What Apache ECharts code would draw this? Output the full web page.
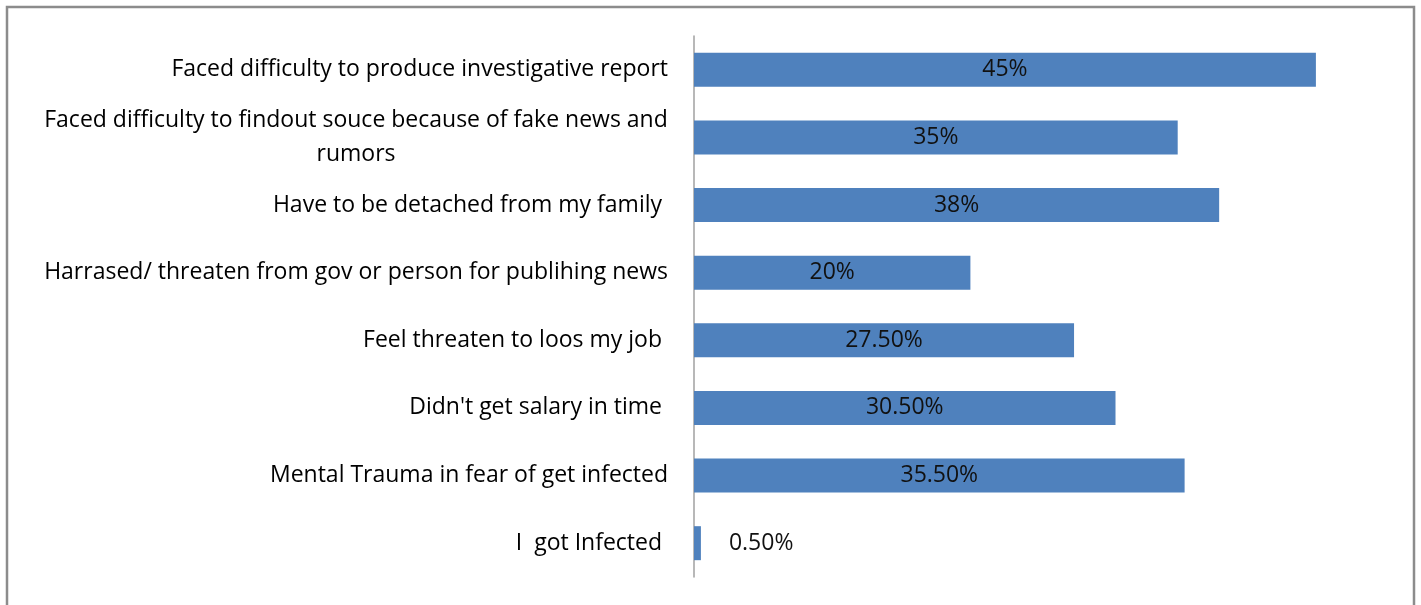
<!DOCTYPE html>
<html>
<head>
<meta charset="utf-8">
<script src="https://cdn.jsdelivr.net/npm/echarts@6/dist/echarts.min.js"></script>
<style>
  html, body { margin: 0; padding: 0; background: #ffffff; }
  #chart { width: 1421px; height: 605px; }
</style>
</head>
<body>
<div id="chart"></div>
<script>
// Problems faced by journalists, share of respondents (%)
const categories = [
  'Faced difficulty to produce investigative report',
  'Faced difficulty to findout souce because of fake news and\nrumors',
  'Have to be detached from my family ',
  'Harrased/ threaten from gov or person for publihing news',
  'Feel threaten to loos my job ',
  "Didn't get salary in time ",
  'Mental Trauma in fear of get infected',
  'I  got Infected '
];
const values = [45, 35, 38, 20, 27.5, 30.5, 35.5, 0.5];

const FONT = '"Open Sans", "DejaVu Sans", sans-serif';
const FONT_SIZE = 23;

function pctText(v) {
  return Number.isInteger(v) ? v + '%' : v.toFixed(2) + '%';
}

const chart = echarts.init(document.getElementById('chart'), null, { renderer: 'canvas' });

chart.setOption({
  backgroundColor: '#ffffff',
  animation: false,
  graphic: [{
    type: 'rect',
    shape: { x: 7, y: 7, width: 1407, height: 700 },
    style: { fill: 'none', stroke: '#8c8c8c', lineWidth: 2.5 },
    silent: true,
    z: 100
  }],
  grid: { left: 694, right: 36, top: 36, bottom: 28, containLabel: false },
  xAxis: {
    type: 'value',
    min: 0,
    max: 50,
    show: false
  },
  yAxis: {
    type: 'category',
    data: categories,
    inverse: true,
    axisTick: { show: false },
    axisLine: { show: true, lineStyle: { color: '#a0a0a0', width: 1.5 } },
    axisLabel: {
      margin: 26,
      color: '#000000',
      fontFamily: FONT,
      fontSize: FONT_SIZE,
      lineHeight: 34,
      formatter: function (v) {
        // wrapped labels: centre every line inside one shared box
        if (v.indexOf('\n') >= 0) {
          return v.split('\n').map(function (s) { return '{c|' + s + '}'; }).join('\n');
        }
        return v;
      },
      rich: {
        c: {
          width: 624,
          align: 'center',
          color: '#000000',
          fontFamily: FONT,
          fontSize: FONT_SIZE,
          lineHeight: 34
        }
      }
    }
  },
  series: [{
    type: 'bar',
    data: values.map(function (v) {
      const item = { value: v };
      if (v < 2) {
        item.label = { position: 'right', distance: 28 };
      }
      return item;
    }),
    barWidth: 34,
    itemStyle: { color: '#4f81bd' },
    label: {
      show: true,
      position: 'inside',
      color: '#111111',
      fontFamily: FONT,
      fontSize: FONT_SIZE,
      formatter: function (p) { return pctText(p.value); }
    }
  }]
});
</script>
</body>
</html>
